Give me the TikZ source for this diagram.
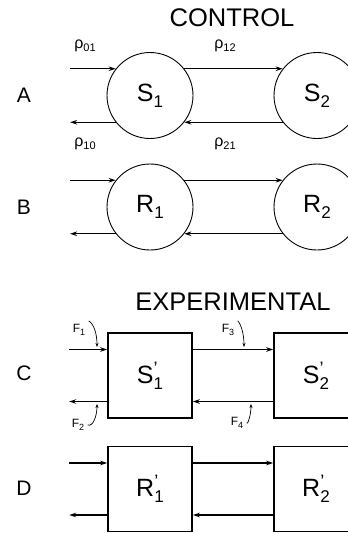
\documentclass[tikz,border=0pt]{standalone}
\usepackage{fontspec}
\setmainfont{Liberation Sans}
\usetikzlibrary{arrows.meta,calc}
\newcommand{\nsub}[2]{#1\raisebox{-6pt}{\fontsize{17}{17}\selectfont #2}}
\newcommand{\nsubp}[2]{#1\rlap{\raisebox{9pt}{\fontsize{18}{18}\selectfont ’}}\raisebox{-6pt}{\fontsize{17}{17}\selectfont #2}}
\newcommand{\rsub}[1]{ρ\raisebox{-3pt}{\fontsize{11}{11}\selectfont #1}}
\newcommand{\fsub}[1]{F\raisebox{-3pt}{\fontsize{9}{9}\selectfont #1}}
\begin{document}
\begin{tikzpicture}[x=1pt,y=-1pt,
  pool/.style={circle,draw,line width=0.9pt,minimum size=86pt,inner sep=0pt,font=\fontsize{25}{25}\selectfont},
  compart/.style={rectangle,draw,line width=1.6pt,minimum width=84pt,minimum height=85pt,inner sep=0pt,font=\fontsize{25}{25}\selectfont},
  flow/.style={line width=1.4pt,-{Stealth[length=7pt,width=4.5pt]}},
  tracer/.style={line width=0.7pt,-{Stealth[length=4pt,width=3pt]}},
  rowlab/.style={font=\fontsize{21}{21}\selectfont},
  heading/.style={font=\fontsize{25.5}{25.5}\selectfont},
  rholab/.style={font=\fontsize{16}{16}\selectfont},
  flab/.style={font=\fontsize{12}{12}\selectfont}]
\useasboundingbox (0,0) rectangle (348,533);
\clip (0,0) rectangle (348,533);
% headings
\node[heading] (ctl) at (232,18) {CONTROL};
\node[heading] (exp) at (233,302) {EXPERIMENTAL};
% row labels
\node[rowlab] (lA) at (24,95) {A};
\node[rowlab] (lB) at (24,207) {B};
\node[rowlab] (lC) at (24,373) {C};
\node[rowlab] (lD) at (24,488) {D};
% control pools
\node[pool] (S1) at (150,95.5) {\nsub{S}{1}};
\node[pool] (S2) at (317,95.5) {\nsub{S}{2}};
\node[pool] (R1) at (150,207) {\nsub{R}{1}};
\node[pool] (R2) at (317,207) {\nsub{R}{2}};
% experimental compartments
\node[compart] (C1) at (150,375.5) {\nsubp{S}{1}};
\node[compart] (C2) at (316,375.5) {\nsubp{S}{2}};
\node[compart] (D1) at (150,489) {\nsubp{R}{1}};
\node[compart] (D2) at (316,489) {\nsubp{R}{2}};
% free ends
\coordinate (ai) at (70,0 |- S1.142);
\coordinate (ao) at (70,0 |- S1.218);
\coordinate (bi) at (70,0 |- R1.142);
\coordinate (bo) at (70,0 |- R1.218);
\coordinate (ci) at ($(C1.west)+(-38,-26)$);
\coordinate (co) at ($(C1.west)+(-38,26)$);
\coordinate (di) at ($(D1.west)+(-38,-26)$);
\coordinate (do) at ($(D1.west)+(-38,26)$);
% A
\draw[flow] (ai) -- (S1.142);
\draw[flow] (S1.218) -- (ao);
\draw[flow] (S1.38) -- (S2.142);
\draw[flow] (S2.218) -- (S1.322);
% B
\draw[flow] (bi) -- (R1.142);
\draw[flow] (R1.218) -- (bo);
\draw[flow] (R1.38) -- (R2.142);
\draw[flow] (R2.218) -- (R1.322);
% C
\draw[flow] (ci) -- ($(C1.west)+(0,-26)$);
\draw[flow] ($(C1.west)+(0,26)$) -- (co);
\draw[flow] ($(C1.east)+(0,-26)$) -- ($(C2.west)+(0,-26)$);
\draw[flow] ($(C2.west)+(0,26)$) -- ($(C1.east)+(0,26)$);
% D
\draw[flow] (di) -- ($(D1.west)+(0,-26)$);
\draw[flow] ($(D1.west)+(0,26)$) -- (do);
\draw[flow] ($(D1.east)+(0,-26)$) -- ($(D2.west)+(0,-26)$);
\draw[flow] ($(D2.west)+(0,26)$) -- ($(D1.east)+(0,26)$);
% rate constants
\node[rholab] (r01) at (85,46) {\rsub{01}};
\node[rholab] (r12) at (225,46) {\rsub{12}};
\node[rholab] (r10) at (85,144) {\rsub{10}};
\node[rholab] (r21) at (225,144) {\rsub{21}};
% fluxes
\node[flab] (f1) at (79,330) {\fsub{1}};
\node[flab] (f2) at (78,425) {\fsub{2}};
\node[flab] (f3) at (228,330) {\fsub{3}};
\node[flab] (f4) at (237,423) {\fsub{4}};
\coordinate (t1) at (97,347);
\coordinate (t2) at (97,404);
\coordinate (t3) at (244,347);
\coordinate (t4) at (251,404);
\draw[tracer] (f1.north east) .. controls (94,324) and (97,334) .. (t1);
\draw[tracer] (f2.east) .. controls (93,427) and (97,416) .. (t2);
\draw[tracer] (f3.north east) .. controls (241,324) and (244,334) .. (t3);
\draw[tracer] (f4.east) .. controls (247,426) and (251,416) .. (t4);
\end{tikzpicture}
\end{document}
